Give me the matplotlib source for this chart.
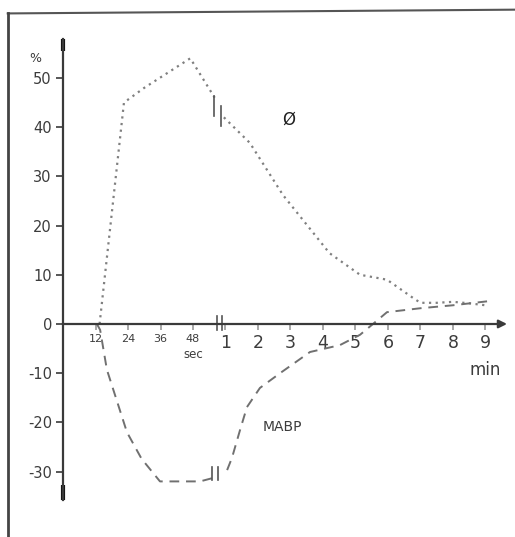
import numpy as np
import matplotlib.pyplot as plt
from matplotlib.lines import Line2D

# time axis: first minute in seconds (12 s per unit), afterwards minutes (1 min per unit)
phi_sec = [13.5, 22.5, 30.0, 47.0, 56.0]
phi_sec_val = [0, 45, 48, 54, 46]
phi_min = [0.95, 1.75, 2.77, 4.2, 5.14, 5.97, 6.77, 7.0, 7.5, 8.0, 8.5, 9.0]
phi_min_val = [42, 36.8, 26.2, 14.4, 10, 9, 5.3, 4.3, 4.3, 4.5, 4.2, 3.8]

mabp_sec = [12.5, 13.7, 16.2, 23.6, 29.0, 35.8, 50.6, 55.4]
mabp_sec_val = [0, -1.2, -9.3, -22, -27.4, -32, -32, -31.3]
mabp_min = [1.05, 1.2, 1.45, 1.66, 2.06, 2.68, 3.6, 4.52, 5.14, 5.54, 5.97, 7.0, 8.0, 9.05]
mabp_min_val = [-29.7, -27.2, -21.5, -16.9, -13, -10, -5.7, -4.3, -2.2, 0, 2.4, 3.2, 3.8, 4.6]

sec_ticks = [12, 24, 36, 48]
min_ticks = [1, 2, 3, 4, 5, 6, 7, 8, 9]
y_ticks = [-30, -20, -10, 0, 10, 20, 30, 40, 50]


def sec_pos(s):
    return np.asarray(s) / 12.0


def min_pos(m):
    return np.asarray(m) + 4.0


AX_C = "#3a3a3a"
TXT_C = "#3c3c3c"

fig = plt.figure(figsize=(5.15, 5.37), dpi=100)
ax = fig.add_axes([0, 0, 1, 1])
ax.set_xlim(-1.94, 13.91)
ax.set_ylim(-43.3, 65.85)
ax.patch.set_alpha(0)

for s in ["top", "right"]:
    ax.spines[s].set_visible(False)
ax.spines["left"].set_position(("data", 0))
ax.spines["bottom"].set_position(("data", 0))
ax.spines["left"].set_bounds(-35.8, 58)
ax.spines["bottom"].set_bounds(0, 13.5)
for s in ["left", "bottom"]:
    ax.spines[s].set_color(AX_C)
    ax.spines[s].set_linewidth(1.6)

# arrow head on the time axis
ax.annotate("", xy=(13.75, 0), xytext=(13.3, 0),
            arrowprops=dict(arrowstyle="-|>", color=AX_C, lw=1.6, mutation_scale=12))
# thick ends of y axis
ax.plot([0, 0], [55.5, 58], color="#111111", lw=3, solid_capstyle="butt")
ax.plot([0, 0], [-32.8, -35.8], color="#111111", lw=3, solid_capstyle="butt")

ax.set_yticks(y_ticks)
ax.set_yticklabels([str(v) for v in y_ticks])
ax.tick_params(axis="y", direction="out", length=5, width=1.2, pad=3,
               labelsize=10.5, colors=AX_C, labelcolor=TXT_C)

xt = list(sec_pos(sec_ticks)) + list(min_pos(min_ticks))
ax.set_xticks(xt)
ax.set_xticklabels([str(v) for v in sec_ticks] + [str(v) for v in min_ticks])
ax.tick_params(axis="x", direction="out", length=4, width=1.2, pad=3,
               colors="#999999", labelcolor=TXT_C)
for i, lab in enumerate(ax.get_xticklabels()):
    if i < len(sec_ticks):
        lab.set_fontsize(8)
    else:
        lab.set_fontsize(12.5)

ax.text(4.0, -6.2, "sec", fontsize=8.5, color=TXT_C, ha="center", va="center")
ax.text(13.0, -9.3, "min", fontsize=12, color=TXT_C, ha="center", va="center")
ax.text(-0.86, 54.0, "%", fontsize=9, color=TXT_C, ha="center", va="center")

# curves
ax.plot(sec_pos(phi_sec), phi_sec_val, color="#808080", lw=1.6, ls=(0, (1, 2)))
ax.plot(min_pos(phi_min), phi_min_val, color="#808080", lw=1.6, ls=(0, (1, 2)))
ax.plot(sec_pos(mabp_sec), mabp_sec_val, color="#707070", lw=1.4, ls=(0, (5, 3.5)))
ax.plot(min_pos(mabp_min), mabp_min_val, color="#707070", lw=1.4, ls=(0, (5, 3.5)))

ax.text(min_pos(2.95), 41.5, "Ø", fontsize=12, color="#222222", ha="center", va="center")
ax.text(min_pos(2.74), -21.0, "MABP", fontsize=10, color=TXT_C, ha="center", va="center")

# break marks (x, y_low, y_high)
breaks = [(4.74, -1.2, 1.6), (4.89, -1.2, 1.6),
          (4.65, 42.3, 46.3), (4.86, 40.2, 44.3),
          (4.58, -31.7, -29.0), (4.77, -31.7, -29.0)]
for bx, y_lo, y_hi in breaks:
    ax.plot([bx, bx], [y_lo, y_hi], color="#555555", lw=1.2)

# page border of the scan
fig.add_artist(Line2D([0.015, 1.0], [0.975, 0.982], transform=fig.transFigure, color="#555555", lw=1.5))
fig.add_artist(Line2D([0.016, 0.016], [0.0, 0.975], transform=fig.transFigure, color="#444444", lw=2))

fig.savefig("out.png", dpi=100)
